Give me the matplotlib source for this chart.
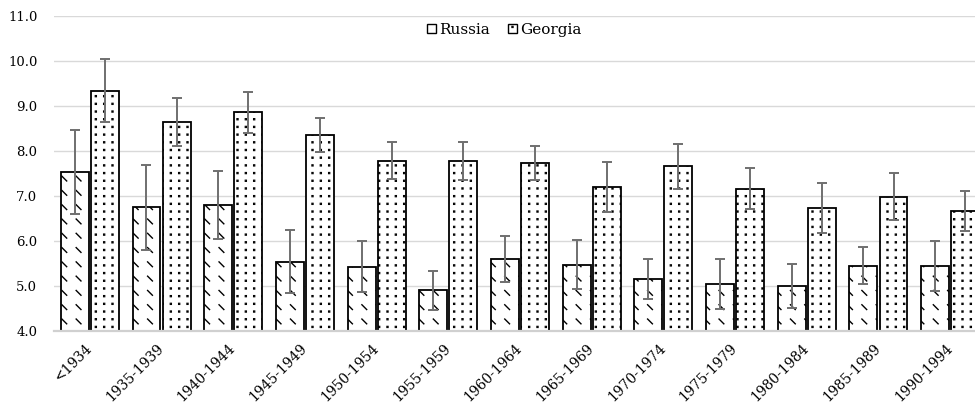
import numpy as np
import matplotlib
matplotlib.use("Agg")
import matplotlib.pyplot as plt
import matplotlib.hatch as mhatch
from matplotlib.path import Path
from matplotlib.patches import Patch

categories = ["<1934", "1935-1939", "1940-1944", "1945-1949", "1950-1954", "1955-1959",
              "1960-1964", "1965-1969", "1970-1974", "1975-1979", "1980-1984", "1985-1989",
              "1990-1994"]
russia = [7.53, 6.74, 6.79, 5.53, 5.42, 4.90, 5.59, 5.47, 5.15, 5.04, 5.00, 5.44, 5.44]
russia_err = [0.93, 0.95, 0.75, 0.70, 0.57, 0.43, 0.51, 0.54, 0.45, 0.55, 0.49, 0.41, 0.55]
georgia = [9.33, 8.64, 8.85, 8.35, 7.78, 7.78, 7.73, 7.19, 7.66, 7.16, 6.73, 6.98, 6.66]
georgia_err = [0.70, 0.54, 0.45, 0.38, 0.41, 0.42, 0.38, 0.55, 0.50, 0.45, 0.55, 0.53, 0.45]
series_names = ["Russia", "Georgia"]
yticks = [4.0, 5.0, 6.0, 7.0, 8.0, 9.0, 10.0, 11.0]


# --- custom hatch patterns: short diagonal dashes ('\\') and a dot grid ('.') ---
class DashedDiag(mhatch.HatchPatternBase):
    def __init__(self, hatch, density):
        self.on = hatch.count('\\') > 0
        self.ncol, self.nrow = 7, 7
        self.num_vertices = self.ncol * self.nrow * 2 if self.on else 0

    def set_vertices_and_codes(self, vertices, codes):
        d = 0.024
        k = 0
        for r in range(self.nrow):
            y = (r + 0.5) / self.nrow
            for c in range(self.ncol):
                x = (c + 0.5) / self.ncol
                vertices[k] = (x - d, y + d)
                vertices[k + 1] = (x + d, y - d)
                codes[k] = Path.MOVETO
                codes[k + 1] = Path.LINETO
                k += 2


class DotGrid(mhatch.HatchPatternBase):
    def __init__(self, hatch, density):
        self.on = hatch.count('.') > 0
        self.ncol, self.nrow = 12, 13
        self.num_vertices = self.ncol * self.nrow * 5 if self.on else 0

    def set_vertices_and_codes(self, vertices, codes):
        s = 0.005
        k = 0
        for r in range(self.nrow):
            y = (r + 0.5) / self.nrow
            for c in range(self.ncol):
                x = (c + 0.5) / self.ncol
                vertices[k:k + 5] = [(x - s, y - s), (x + s, y - s), (x + s, y + s),
                                     (x - s, y + s), (x - s, y - s)]
                codes[k:k + 5] = [Path.MOVETO, Path.LINETO, Path.LINETO, Path.LINETO,
                                  Path.CLOSEPOLY]
                k += 5


mhatch._hatch_types[:] = [DashedDiag, DotGrid]

plt.rcParams['font.family'] = ['DejaVu Serif']
plt.rcParams['hatch.linewidth'] = 1.0
plt.rcParams['hatch.color'] = 'black'

W, H = 975, 403
fig = plt.figure(figsize=(W / 100, H / 100), dpi=100)
ax = fig.add_axes([54 / W, (H - 330.7) / H, 932 / W, (330.7 - 15.7) / H])

x = np.arange(len(categories))
bw = 0.39
off = 0.21
ekw = dict(ecolor='#6f6f6f', elinewidth=1.4, capsize=3.6, capthick=1.4)

ax.bar(x - off, russia, bw, color='white', edgecolor='black', linewidth=1.3,
       hatch='\\', yerr=russia_err, error_kw=ekw, zorder=2, label=series_names[0])
ax.bar(x + off, georgia, bw, color='white', edgecolor='black', linewidth=1.3,
       hatch='.', yerr=georgia_err, error_kw=ekw, zorder=2, label=series_names[1])

ax.set_ylim(4.0, 11.0)
ax.set_xlim(-0.5, 12.5)
ax.set_yticks(yticks)
ax.set_yticklabels([f"{v:.1f}" for v in yticks], fontsize=9.5)
ax.set_xticks(x)
ax.set_xticklabels(categories, fontsize=10, rotation=45, ha='right', va='center',
                   rotation_mode='anchor')
ax.tick_params(axis='both', length=0)
ax.tick_params(axis='y', pad=12)
ax.tick_params(axis='x', pad=11)
ax.grid(axis='y', color='#d9d9d9', linewidth=1.0, zorder=0)
ax.set_axisbelow(True)
for sp in ['left', 'right', 'top']:
    ax.spines[sp].set_visible(False)
ax.spines['bottom'].set_color('#d0d0d0')
ax.spines['bottom'].set_linewidth(1.6)
ax.spines['bottom'].set_zorder(3)

handles = [Patch(facecolor='white', edgecolor='black', linewidth=1.0, hatch=''),
           Patch(facecolor='white', edgecolor='black', linewidth=1.0, hatch='.')]
fig.legend(handles, series_names, loc='center', bbox_to_anchor=(504 / W, 1 - 30 / H),
           ncol=2, frameon=False, fontsize=11, handlelength=0.6, handleheight=0.6,
           handletextpad=0.2, columnspacing=1.2)

fig.savefig("out.png", dpi=100)
